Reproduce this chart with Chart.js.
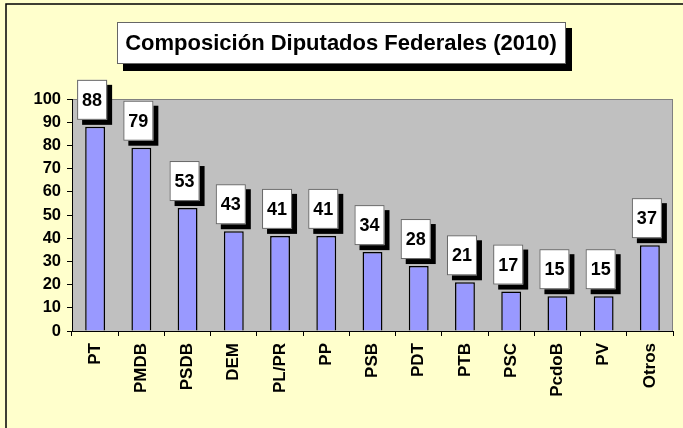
<!DOCTYPE html>
<html>
<head>
<meta charset="utf-8">
<script src="https://cdn.jsdelivr.net/npm/chart.js@4"></script>
<style>
  html, body { margin: 0; padding: 0; background: #FFFFCC; }
  #wrap { width: 683px; height: 428px; position: relative; }
</style>
</head>
<body>
<div id="wrap"><canvas id="myChart"></canvas></div>
<script>
const partidos = ["PT", "PMDB", "PSDB", "DEM", "PL/PR", "PP", "PSB", "PDT", "PTB", "PSC", "PcdoB", "PV", "Otros"];
const diputados = [88, 79, 53, 43, 41, 41, 34, 28, 21, 17, 15, 15, 37];
const titulo = "Composición Diputados Federales (2010)";

// fondo, marco y area gris del grafico
const fondo = {
    id: 'fondo',
    beforeDraw(chart) {
        const ctx = chart.ctx;
        const a = chart.chartArea;
        ctx.save();
        ctx.fillStyle = '#FFFFCC';
        ctx.fillRect(0, 0, chart.width, chart.height);
        ctx.strokeStyle = '#000';
        ctx.lineWidth = 1.5;
        ctx.strokeRect(6, 4, chart.width + 10, chart.height + 10);
        ctx.fillStyle = '#C0C0C0';
        ctx.fillRect(a.left, a.top, a.right - a.left, a.bottom - a.top);
        ctx.strokeStyle = '#808080';
        ctx.lineWidth = 1;
        ctx.strokeRect(a.left + 0.5, a.top + 0.5, a.right - a.left - 1, a.bottom - a.top);

        // caja del titulo
        ctx.fillStyle = '#000';
        ctx.fillRect(123, 28, 449, 43);
        ctx.fillStyle = '#fff';
        ctx.fillRect(117, 22, 449, 42);
        ctx.strokeStyle = '#666';
        ctx.strokeRect(117.5, 22.5, 448, 41);
        ctx.fillStyle = '#000';
        ctx.font = 'bold 22px Arial, "Liberation Sans"';
        ctx.textAlign = 'center';
        ctx.textBaseline = 'middle';
        ctx.fillText(titulo, 341, 44);
        ctx.restore();
    }
};

// etiquetas con sombra sobre cada barra
const etiquetas = {
    id: 'etiquetas',
    afterDatasetsDraw(chart) {
        const ctx = chart.ctx;
        const meta = chart.getDatasetMeta(0);
        ctx.save();
        meta.data.forEach(function (bar, i) {
            const w = 30, h = 40;
            const x = bar.x - 3 - w / 2;
            const y = bar.y - 7 - h;
            ctx.fillStyle = '#000';
            ctx.fillRect(x + 5, y + 5, w, h);
            ctx.fillStyle = '#fff';
            ctx.fillRect(x, y, w, h);
            ctx.strokeStyle = '#666';
            ctx.lineWidth = 1;
            ctx.strokeRect(x + 0.5, y + 0.5, w - 1, h - 1);
            ctx.fillStyle = '#000';
            ctx.font = 'bold 18px Arial, "Liberation Sans"';
            ctx.textAlign = 'center';
            ctx.textBaseline = 'middle';
            ctx.fillText(diputados[i], x + w / 2, y + h / 2 + 1);
        });
        ctx.restore();
    }
};

const data = {
    labels: partidos,
    datasets: [{
        data: diputados,
        backgroundColor: '#9999FF',
        borderColor: '#000',
        borderWidth: 1.5,
        barPercentage: 0.43,
        categoryPercentage: 1
    }]
};

const config = {
    type: 'bar',
    data: data,
    plugins: [fondo, etiquetas],
    options: {
        responsive: false,
        animation: false,
        layout: {
            padding: { left: 8, right: 10, top: 99, bottom: 4 }
        },
        plugins: {
            legend: { display: false },
            title: { display: false },
            tooltip: { enabled: false }
        },
        scales: {
            y: {
                min: 0,
                max: 100,
                afterFit: function (s) { s.width = 64; },
                ticks: {
                    stepSize: 10,
                    autoSkip: false,
                    color: '#000',
                    padding: 6,
                    font: { family: 'Arial, "Liberation Sans"', size: 16.5, weight: 'bold' }
                },
                grid: { drawOnChartArea: false, drawTicks: true, tickLength: 5, color: '#000' },
                border: { display: true, color: '#000', width: 1 }
            },
            x: {
                afterFit: function (s) { s.height = 93; },
                ticks: {
                    minRotation: 90,
                    maxRotation: 90,
                    autoSkip: false,
                    color: '#000',
                    padding: 7,
                    font: { family: 'Arial, "Liberation Sans"', size: 17, weight: 'bold' }
                },
                grid: { offset: true, drawOnChartArea: false, drawTicks: true, tickLength: 5, color: '#000' },
                border: { display: true, color: '#000', width: 1 }
            }
        }
    }
};

const canvas = document.getElementById('myChart');
canvas.width = 683;
canvas.height = 428;
new Chart(canvas, config);
</script>
</body>
</html>
